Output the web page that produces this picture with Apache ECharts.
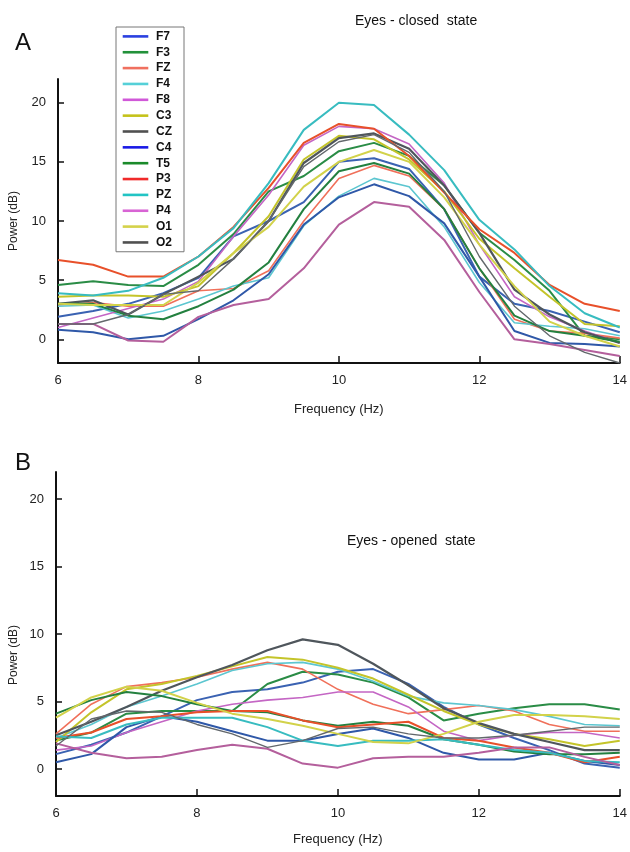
<!DOCTYPE html>
<html lang="en">
  <head>
    <meta charset="UTF-8" />
    <title>EEG power spectra</title>
    <script src="https://cdn.jsdelivr.net/npm/echarts@6/dist/echarts.min.js"></script>
    <style>
      html, body { margin: 0; padding: 0; background: #fff; }
    </style>
  </head>
  <body>
    <div id="main" style="width: 630px; height: 852px"></div>

    <script>
      // frequency points (Hz), 0.5 Hz steps
      const freqs = [6, 6.5, 7, 7.5, 8, 8.5, 9, 9.5, 10, 10.5, 11, 11.5, 12, 12.5, 13, 13.5, 14]
      const channels = ['F7', 'F3', 'FZ', 'F4', 'F8', 'C3', 'CZ', 'C4', 'T5', 'P3', 'PZ', 'P4', 'O1', 'O2']
      const powerTicks = [0, 5, 10, 15, 20]

      // A: eyes closed, power in dB
      const closedF7 = [1.9, 2.4, 3.0, 3.9, 5.2, 8.7, 10.0, 11.6, 15.0, 15.3, 14.4, 11.0, 5.3, 3.0, 2.4, 1.5, 0.6]
      const closedF3 = [4.6, 4.9, 4.6, 4.5, 6.3, 8.9, 12.5, 13.8, 15.9, 16.6, 15.5, 13.0, 9.0, 6.7, 4.1, 0.3, 0.0]
      const closedFZ = [2.9, 3.1, 2.8, 2.8, 4.1, 4.3, 5.8, 10.0, 13.6, 14.7, 13.8, 11.0, 6.0, 1.7, 0.7, 0.5, 0.1]
      const closedF4 = [2.8, 2.9, 1.8, 2.4, 3.4, 4.5, 5.2, 9.6, 12.1, 13.6, 12.9, 9.5, 4.8, 1.4, 1.1, 0.9, 0.3]
      const closedF8 = [1.0, 1.8, 2.6, 3.4, 4.9, 8.7, 12.2, 16.4, 18.0, 17.8, 16.5, 13.2, 8.0, 3.6, 1.9, 0.7, -0.3]
      const closedC3 = [3.6, 3.7, 3.7, 3.6, 4.5, 7.3, 10.4, 15.2, 17.2, 16.9, 15.2, 12.5, 8.5, 6.0, 3.6, 1.3, 1.1]
      const closedCZ = [3.0, 3.3, 2.1, 3.8, 5.3, 6.8, 10.0, 14.9, 17.0, 17.4, 16.1, 13.0, 9.0, 4.2, 2.1, 0.6, -0.3]
      const closedC4 = [0.8, 0.6, 0.0, 0.3, 1.7, 3.3, 5.5, 9.7, 12.0, 13.1, 12.1, 9.8, 5.3, 0.7, -0.3, -0.4, -0.6]
      const closedT5 = [3.0, 3.0, 2.0, 1.7, 2.8, 4.2, 6.5, 11.0, 14.2, 14.9, 14.0, 11.0, 6.0, 2.0, 0.7, 0.3, -0.2]
      const closedP3 = [6.7, 6.3, 5.3, 5.3, 7.0, 9.5, 12.8, 16.6, 18.2, 17.8, 15.5, 12.4, 9.3, 7.3, 4.6, 3.0, 2.4]
      const closedPZ = [3.9, 3.7, 4.1, 5.2, 7.0, 9.4, 13.2, 17.7, 20.0, 19.8, 17.3, 14.3, 10.1, 7.6, 4.5, 2.2, 1.0]
      const closedP4 = [1.3, 1.3, -0.1, -0.2, 1.9, 2.9, 3.4, 6.0, 9.7, 11.6, 11.2, 8.4, 4.0, 0.0, -0.4, -0.9, -1.4]
      const closedO1 = [3.0, 2.9, 2.9, 2.9, 4.8, 7.3, 9.5, 12.9, 15.0, 16.0, 15.0, 12.0, 8.0, 4.5, 1.5, 0.3, -0.6]
      const closedO2 = [1.3, 1.3, 2.1, 3.8, 4.1, 6.8, 10.0, 14.6, 16.7, 17.3, 15.8, 12.5, 7.0, 2.8, 0.3, -1.1, -2.0]

      // B: eyes opened, power in dB
      const openedF7 = [1.1, 1.8, 2.7, 3.9, 5.1, 5.7, 5.9, 6.4, 7.2, 7.4, 6.3, 4.6, 3.3, 2.3, 1.4, 0.4, 0.1]
      const openedF3 = [2.1, 2.7, 4.1, 4.3, 4.3, 4.3, 6.3, 7.2, 7.0, 6.4, 5.3, 3.6, 4.1, 4.5, 4.8, 4.8, 4.4]
      const openedFZ = [2.6, 4.8, 6.1, 6.4, 6.8, 7.4, 7.9, 7.4, 5.9, 4.8, 4.1, 4.4, 4.7, 4.3, 3.3, 2.8, 2.8]
      const openedF4 = [2.3, 3.3, 4.6, 5.4, 6.3, 7.3, 7.8, 7.9, 7.4, 6.5, 5.4, 4.9, 4.7, 4.4, 3.9, 3.3, 3.2]
      const openedF8 = [1.4, 1.7, 2.7, 3.5, 4.3, 4.8, 5.1, 5.3, 5.7, 5.7, 4.6, 2.8, 2.1, 2.5, 2.7, 2.7, 2.3]
      const openedC3 = [2.0, 4.2, 5.9, 6.3, 6.9, 7.6, 8.3, 8.1, 7.5, 6.7, 5.5, 4.3, 3.3, 2.6, 2.2, 1.7, 2.1]
      const openedCZ = [2.5, 3.5, 4.6, 5.8, 6.8, 7.7, 8.8, 9.6, 9.2, 7.8, 6.2, 4.5, 3.4, 2.6, 2.0, 1.4, 1.4]
      const openedC4 = [0.5, 1.1, 3.1, 3.9, 3.5, 2.8, 2.1, 2.1, 2.6, 3.0, 2.3, 1.2, 0.7, 0.7, 1.2, 0.6, 0.3]
      const openedT5 = [4.1, 5.1, 5.7, 5.4, 4.8, 4.3, 4.2, 3.6, 3.2, 3.5, 3.2, 2.2, 1.8, 1.3, 1.1, 1.1, 1.2]
      const openedP3 = [2.3, 2.7, 3.7, 3.9, 4.2, 4.3, 4.3, 3.6, 3.1, 3.3, 3.5, 2.3, 2.1, 1.6, 1.2, 0.5, 0.9]
      const openedPZ = [2.4, 2.3, 3.3, 3.8, 3.8, 3.8, 3.1, 2.1, 1.7, 2.1, 2.1, 2.2, 1.8, 1.4, 1.2, 0.6, 0.5]
      const openedP4 = [1.9, 1.2, 0.8, 0.9, 1.4, 1.8, 1.5, 0.4, 0.1, 0.8, 0.9, 0.9, 1.2, 1.6, 1.6, 0.9, 0.3]
      const openedO1 = [3.8, 5.3, 6.1, 5.8, 4.9, 4.1, 3.7, 3.2, 2.6, 2.0, 1.9, 2.6, 3.5, 4.0, 4.0, 3.9, 3.7]
      const openedO2 = [1.7, 3.7, 4.3, 4.2, 3.3, 2.6, 1.6, 2.1, 3.0, 3.1, 2.6, 2.3, 2.3, 2.5, 2.8, 3.1, 3.1]

      const closedData = [closedF7, closedF3, closedFZ, closedF4, closedF8, closedC3, closedCZ,
        closedC4, closedT5, closedP3, closedPZ, closedP4, closedO1, closedO2]
      const openedData = [openedF7, openedF3, openedFZ, openedF4, openedF8, openedC3, openedCZ,
        openedC4, openedT5, openedP3, openedPZ, openedP4, openedO1, openedO2]

      // line colours (as drawn) and legend colours (more saturated in the key)
      const lineColors = ['#3a62b2', '#2a8c46', '#f0705a', '#5cc6d0', '#c466c4', '#c4c42a', '#4f565c',
        '#2f58a8', '#23803f', '#e8502a', '#38bcc0', '#b45f9c', '#d2d24a', '#63686c']
      const keyColors = ['#2a40e0', '#22913a', '#f0705f', '#55d0d8', '#d058d8', '#c4c21a', '#505050',
        '#1a1ae6', '#1a8a2a', '#f02a2a', '#22c4c4', '#d864d4', '#d4d24a', '#505050']
      const lineWidths = [2, 2, 1.6, 1.6, 1.6, 2, 2.2, 2, 2, 2, 2, 2, 2, 1.4]

      const font = 'Liberation Sans, Arial, Helvetica, sans-serif'

      function makeSeries(list, axisIndex) {
        return list.map((vals, i) => ({
          name: channels[i],
          type: 'line',
          xAxisIndex: axisIndex,
          yAxisIndex: axisIndex,
          symbol: 'none',
          silent: true,
          animation: false,
          color: lineColors[i],
          lineStyle: { width: lineWidths[i], color: lineColors[i] },
          data: vals.map((v, k) => [freqs[k], v]),
        }))
      }

      function xAxisOpt(gridIndex, gap) {
        return {
          gridIndex: gridIndex,
          type: 'value',
          min: 6,
          max: 14,
          interval: 2,
          name: 'Frequency (Hz)',
          nameLocation: 'middle',
          nameGap: gap,
          nameTextStyle: { fontFamily: font, fontSize: 13, color: '#222' },
          axisLine: { show: true, onZero: false, lineStyle: { color: '#111', width: 2 } },
          axisTick: { show: true, inside: true, length: 7, lineStyle: { color: '#111', width: 1.5 } },
          axisLabel: { fontFamily: font, fontSize: 13, color: '#222', margin: 11 },
          splitLine: { show: false },
        }
      }

      function yAxisOpt(gridIndex, withName) {
        return {
          gridIndex: gridIndex,
          type: 'value',
          min: -2,
          max: 22,
          name: withName ? 'Power (dB)' : '',
          nameLocation: 'middle',
          nameRotate: 90,
          nameGap: 38,
          nameTextStyle: { fontFamily: font, fontSize: 12, color: '#222' },
          axisLine: { show: true, onZero: false, lineStyle: { color: '#111', width: 2 } },
          axisTick: { show: true, inside: true, length: 6, customValues: powerTicks, lineStyle: { color: '#111', width: 1.5 } },
          axisLabel: { fontFamily: font, fontSize: 13, color: '#222', margin: 12, customValues: powerTicks },
          splitLine: { show: false },
        }
      }

      const chart = echarts.init(document.getElementById('main'), null, { renderer: 'canvas' })

      const options = {
        animation: false,
        backgroundColor: '#fff',
        title: [
          { text: 'A', left: 10, top: 26, textStyle: { fontFamily: font, fontSize: 24, fontWeight: 'normal', color: '#111' } },
          { text: 'B', left: 10, top: 446, textStyle: { fontFamily: font, fontSize: 24, fontWeight: 'normal', color: '#111' } },
          { text: 'Eyes - closed  state', left: 350, top: 9, textStyle: { fontFamily: font, fontSize: 14, fontWeight: 'normal', color: '#111' } },
          { text: 'Eyes - opened  state', left: 342, top: 529, textStyle: { fontFamily: font, fontSize: 14, fontWeight: 'normal', color: '#111' } },
        ],
        legend: {
          orient: 'vertical',
          left: 116,
          top: 27,
          padding: [2.4, 12, 2.3, 6.7],
          borderColor: '#777',
          borderWidth: 1,
          backgroundColor: '#fff',
          icon: 'rect',
          itemWidth: 25.6,
          itemHeight: 2.6,
          itemGap: 1.85,
          selectedMode: false,
          textStyle: { fontFamily: font, fontSize: 12, fontWeight: 'bold', color: '#111', lineHeight: 14, padding: [0, 0, 0, 2.7] },
          data: channels.map((c, i) => ({
            name: c,
            itemStyle: { color: keyColors[i] },
          })),
        },
        graphic: [
          {
            type: 'text',
            x: 14,
            y: 655,
            rotation: Math.PI / 2,
            style: { text: 'Power (dB)', fontFamily: font, fontSize: 12, fill: '#222', align: 'center', verticalAlign: 'middle' },
          },
        ],
        grid: [
          { left: 56, right: 8, top: 79, height: 284 },
          { left: 56, right: 8, top: 472, height: 324 },
        ],
        xAxis: [xAxisOpt(0, 40), xAxisOpt(1, 37)],
        yAxis: [yAxisOpt(0, true), yAxisOpt(1, false)],
        series: makeSeries(closedData, 0).concat(makeSeries(openedData, 1)),
      }

      chart.setOption(options)
    </script>
  </body>
</html>
